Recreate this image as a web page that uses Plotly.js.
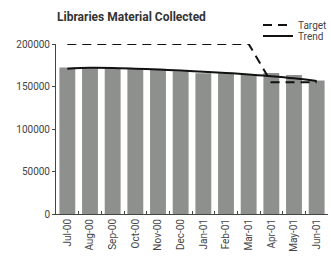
<!DOCTYPE html>
<html><head><meta charset="utf-8">
<script src="https://cdn.plot.ly/plotly-3.0.1.min.js"></script>
<style>html,body{margin:0;padding:0;background:#fff}#c{width:331px;height:261px}</style>
</head><body><div id="c"></div>
<script>
const months = ["Jul-00","Aug-00","Sep-00","Oct-00","Nov-00","Dec-00","Jan-01","Feb-01","Mar-01","Apr-01","May-01","Jun-01"];
const collected = [172500,172000,171500,171500,171000,168000,165500,165500,164500,166000,163500,157000];
const target = [200000,200000,200000,200000,200000,200000,200000,200000,200000,155000,155000,155000];
const trend = [171000,172000,171800,171000,170000,168800,167500,166000,164200,162200,159700,156500];
const yTicks = [0,50000,100000,150000,200000];

const data = [
  {type:'bar', x:months, y:collected, marker:{color:'#8e908e'}, showlegend:false, hoverinfo:'skip'},
  {type:'scatter', mode:'lines', x:months, y:target, name:'Target', legend:'legend', line:{color:'#111', width:2, dash:'9px,6px'}},
  {type:'scatter', mode:'lines', x:months, y:trend, name:'Trend', legend:'legend2', line:{color:'#111', width:2, shape:'spline'}}
];
const legBase = {xanchor:'left', yanchor:'middle', bgcolor:'rgba(0,0,0,0)', font:{size:10, color:'#444'}, itemwidth:30, borderwidth:0};
const layout = {
  width:331, height:261,
  margin:{l:56, r:3, t:44, b:47, autoexpand:false},
  paper_bgcolor:'#fff', plot_bgcolor:'#fff',
  font:{family:'Roboto, sans-serif', size:10, color:'#444'},
  title:{text:'<b>Libraries Material Collected</b>', x:57/331, xanchor:'left', y:0.935, yanchor:'middle', font:{family:'Roboto, sans-serif', size:12, color:'#333'}},
  bargap:0.3,
  xaxis:{type:'category', showline:true, linecolor:'#444', linewidth:1, ticks:'inside', tickson:'boundaries', ticklen:3, tickcolor:'#444', tickangle:-90, showgrid:false, tickfont:{size:10, color:'#444'}},
  yaxis:{range:[0,200000], tickvals:yTicks, ticktext:yTicks.map(String), showline:true, linecolor:'#444', linewidth:1, ticks:'outside', ticklen:3, tickcolor:'#444', showgrid:false, zeroline:false, tickfont:{size:10, color:'#444'}},
  legend:Object.assign({}, legBase, {x:(258-56)/272, y:1+(44-25)/170}),
  legend2:Object.assign({}, legBase, {x:(258-56)/272, y:1+(44-36)/170})
};
Plotly.newPlot('c', data, layout, {displayModeBar:false, staticPlot:true});
</script></body></html>
